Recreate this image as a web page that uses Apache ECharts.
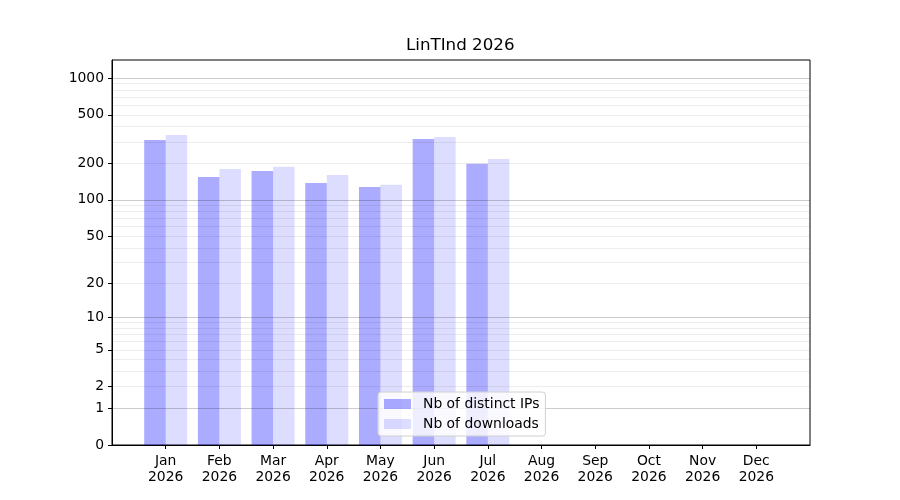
<!DOCTYPE html>
<html lang="en">
<head>
    <meta charset="UTF-8">
    <title>LinTInd 2026</title>
    <style>
        html, body { margin: 0; padding: 0; background: #fff; }
        #chart { width: 900px; height: 500px; }
    </style>
</head>
<body>
    <div id="chart"></div>
    <script src="https://cdn.jsdelivr.net/npm/echarts@6/dist/echarts.min.js"></script>
    <script>
        // data
        const months = ['Jan', 'Feb', 'Mar', 'Apr', 'May', 'Jun', 'Jul', 'Aug', 'Sep', 'Oct', 'Nov', 'Dec'];
        const year = '2026';
        const distinctIPs = [311, 154, 173, 138, 128, 317, 198];
        const downloads = [342, 180, 187, 160, 133, 329, 217];
        const tickValues = [0, 1, 2, 5, 10, 20, 50, 100, 200, 500, 1000];
        const majorGrid = [1, 10, 100, 1000];
        const minorGrid = [2, 3, 4, 5, 6, 7, 8, 9, 20, 30, 40, 50, 60, 70, 80, 90, 200, 300, 400, 500, 600, 700, 800, 900];

        // y scale is log10(1 + v)
        const tf = v => Math.log10(1 + v);
        const inv = t => Math.round(Math.pow(10, t) - 1);
        const yMax = 3.148;

        // one empty slot each side, like the axis margins of the original
        const cats = [''].concat(months.map(m => m + '\n' + year), ['']);
        const pad = arr => {
            const out = cats.map(() => null);
            arr.forEach((v, i) => { out[i + 1] = tf(v); });
            return out;
        };

        const font = 'DejaVu Sans';
        const chart = echarts.init(document.getElementById('chart'));

        const gridAxis = (vals, color) => ({
            type: 'value',
            min: 0,
            max: yMax,
            z: 3,
            axisLine: { show: false },
            axisLabel: { show: false, customValues: vals.map(tf) },
            axisTick: { show: false, customValues: vals.map(tf) },
            splitLine: { show: true, lineStyle: { color: color, width: 1 } }
        });

        chart.setOption({
            animation: false,
            title: {
                text: 'LinTInd 2026',
                left: 406,
                top: 37,
                padding: 0,
                textStyle: { fontFamily: font, fontSize: 16.7, fontWeight: 'normal', color: '#000' }
            },
            legend: {
                orient: 'vertical',
                left: 378,
                top: 392,
                padding: [5, 6, 5, 6],
                itemWidth: 27,
                itemHeight: 10,
                itemGap: 6,
                icon: 'rect',
                backgroundColor: 'rgba(255,255,255,0.8)',
                borderColor: '#d0d0d0',
                borderWidth: 1,
                borderRadius: 3,
                textStyle: { fontFamily: font, fontSize: 13.9, color: '#000', padding: [0, 0, 0, 7] },
                data: ['Nb of distinct IPs', 'Nb of downloads']
            },
            grid: {
                left: 112, right: 90, top: 60, bottom: 55,
                show: true,
                borderColor: '#000',
                borderWidth: 1
            },
            xAxis: {
                type: 'category',
                boundaryGap: false,
                data: cats,
                axisLine: { lineStyle: { color: '#000', width: 1 } },
                axisTick: {
                    length: 4,
                    lineStyle: { color: '#000' },
                    interval: idx => idx > 0 && idx < cats.length - 1
                },
                axisLabel: {
                    fontFamily: font, fontSize: 13.9, color: '#000',
                    lineHeight: 16, margin: 8,
                    interval: 0
                },
                splitLine: { show: false }
            },
            yAxis: [{
                type: 'value',
                min: 0,
                max: yMax,
                axisLine: { show: true, lineStyle: { color: '#000' } },
                axisTick: { show: true, length: 4, lineStyle: { color: '#000' }, customValues: tickValues.map(tf) },
                axisLabel: {
                    fontFamily: font, fontSize: 13.9, color: '#000', margin: 8,
                    padding: [2, 0, 0, 0],
                    customValues: tickValues.map(tf),
                    formatter: v => String(inv(v))
                },
                splitLine: { show: false }
            },
                gridAxis(minorGrid, 'rgba(0,0,0,0.07)'),
                gridAxis(majorGrid, 'rgba(0,0,0,0.2)')
            ],
            series: [{
                name: 'Nb of distinct IPs',
                type: 'bar',
                barWidth: 21.5,
                barGap: '0%',
                itemStyle: { color: 'rgba(0,0,255,0.33)' },
                data: pad(distinctIPs)
            }, {
                name: 'Nb of downloads',
                type: 'bar',
                barWidth: 21.5,
                barGap: '0%',
                itemStyle: { color: 'rgba(0,0,255,0.135)' },
                data: pad(downloads)
            }]
        });
    </script>
</body>
</html>
